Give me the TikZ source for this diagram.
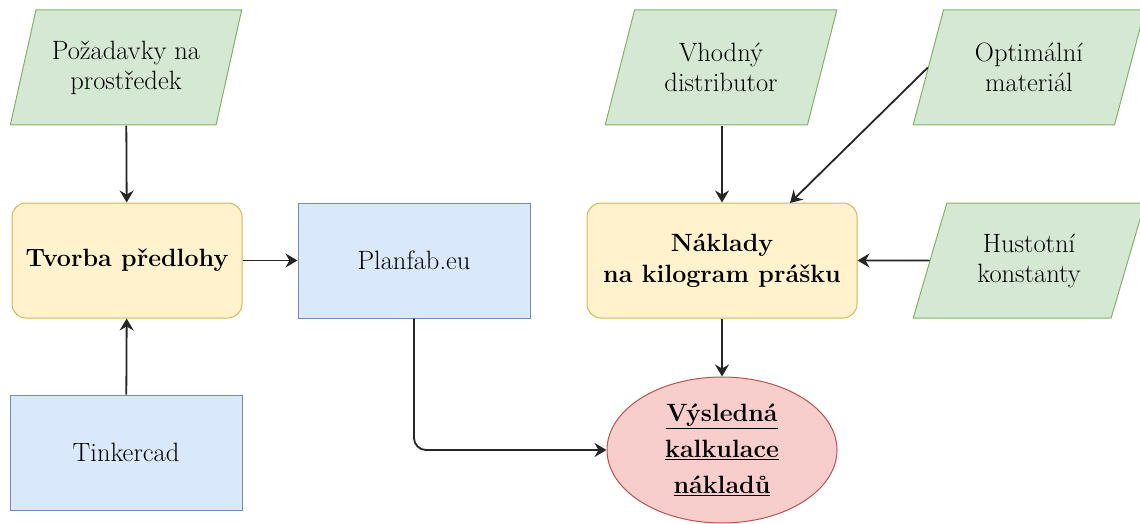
\documentclass[tikz,border=0pt]{standalone}
\usepackage{fontspec}
\usetikzlibrary{shapes.geometric,arrows.meta}
\definecolor{gfill}{HTML}{D5E8D4}\definecolor{gline}{HTML}{82B366}
\definecolor{yfill}{HTML}{FFF2CC}\definecolor{yline}{HTML}{D6B656}
\definecolor{bfill}{HTML}{DAE8FC}\definecolor{bline}{HTML}{6C8EBF}
\definecolor{rfill}{HTML}{F8CECC}\definecolor{rline}{HTML}{B85450}
\tikzset{
  para/.style={trapezium, trapezium left angle=68.5, trapezium right angle=111.5,
    trapezium stretches=true, minimum width=232pt, minimum height=115pt,
    inner sep=0pt, fill=gfill, draw=gline, line width=1pt, align=center,
    font=\fontsize{26.5}{30}\selectfont},
  procbox/.style={rectangle, rounded corners=14pt, minimum height=115pt,
    fill=yfill, draw=yline, line width=1pt, align=center,
    font=\fontsize{25}{31}\selectfont\bfseries},
  toolbox/.style={rectangle, minimum width=232pt, minimum height=115pt,
    fill=bfill, draw=bline, line width=1pt, align=center,
    font=\fontsize{26.5}{30}\selectfont},
  resnode/.style={ellipse, minimum width=230pt, minimum height=146pt, inner sep=0pt,
    fill=rfill, draw=rline, line width=1pt, align=center,
    font=\fontsize{25}{36}\selectfont\bfseries},
  conn/.style={line width=1.8pt, draw=black!85, -{Stealth[length=12pt,width=14pt,inset=4pt]}}
}
\begin{document}
\begin{tikzpicture}[x=1pt,y=-1pt]
\useasboundingbox (0,0) rectangle (1140,524);
\node[para] (poz) at (126,67.5) {Požadavky na\\prostředek};
\node[procbox, minimum width=230pt] (tvo) at (127,260.5) {Tvorba předlohy};
\node[toolbox] (pla) at (414,260.5) {Planfab.eu};
\node[toolbox] (tin) at (126,452.5) {Tinkercad};
\node[para] (vho) at (721,67.5) {Vhodný\\distributor};
\node[para] (opt) at (1029,67.5) {Optimální\\materiál};
\node[procbox, minimum width=270pt] (nak) at (722,260.5) {Náklady\\na kilogram prášku};
\node[para] (hus) at (1029,260.5) {Hustotní\\konstanty};
\node[resnode] (vys) at (722,450) {\underline{Výsledná}\\\underline{kalkulace}\\\underline{nákladů}};
\draw[conn] (poz) -- (tvo);
\draw[conn] (tin) -- (tvo);
\draw[conn] (tvo) -- (pla);
\draw[conn] (vho.south -| nak.north) -- (nak.north);
\coordinate (nakin) at (790,203);
\draw[conn] (opt.west) -- (nakin);
\draw[conn] (hus.west) -- (nak.east);
\draw[conn] (nak) -- (vys);
\draw[conn, rounded corners=12pt] (pla.south) |- (vys.west);
\end{tikzpicture}
\end{document}
